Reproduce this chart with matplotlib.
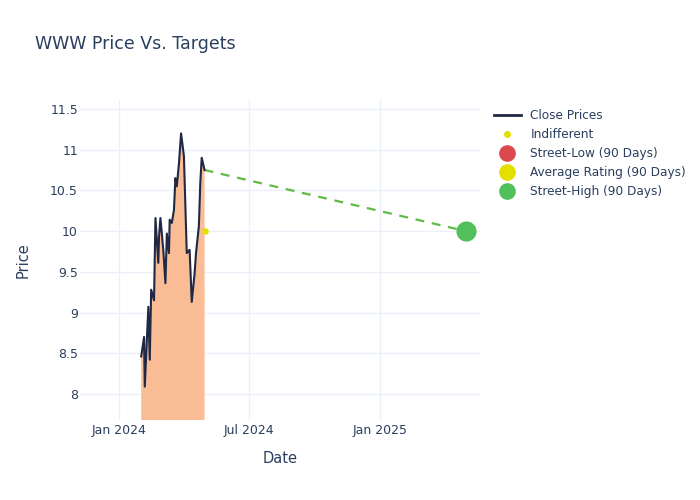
import matplotlib
matplotlib.use("Agg")
import matplotlib.pyplot as plt
import matplotlib.dates as mdates
from matplotlib.lines import Line2D
from matplotlib.ticker import FuncFormatter
import numpy as np
import pandas as pd

# close prices
dates = ["2024-02-01", "2024-02-05", "2024-02-06", "2024-02-11", "2024-02-13",
         "2024-02-15", "2024-02-19", "2024-02-21", "2024-02-25", "2024-02-26",
         "2024-02-28", "2024-03-03", "2024-03-06", "2024-03-08", "2024-03-11",
         "2024-03-12", "2024-03-15", "2024-03-18", "2024-03-20", "2024-03-22",
         "2024-03-25", "2024-03-28", "2024-04-01", "2024-04-05", "2024-04-09",
         "2024-04-12", "2024-04-16", "2024-04-18", "2024-04-22", "2024-04-24",
         "2024-04-26", "2024-04-30"]
prices = [8.46, 8.70, 8.09, 9.07, 8.42,
          9.28, 9.15, 10.16, 9.61, 9.93,
          10.16, 9.77, 9.36, 9.97, 9.73,
          10.14, 10.10, 10.26, 10.65, 10.55,
          10.83, 11.20, 10.92, 9.73, 9.77,
          9.13, 9.48, 9.73, 10.06, 10.59,
          10.90, 10.75]

indiff_date = "2024-04-30"
indiff_value = 10.0

target_date = "2025-05-02"
street_high = 10.0

title = "WWW Price Vs. Targets"
legend_labels = ["Close Prices", "Indifferent", "Street-Low (90 Days)",
                 "Average Rating (90 Days)", "Street-High (90 Days)"]

text_col = "#2a3f5f"
grid_col = "#ebf0f8"

d = pd.to_datetime(dates)
p = np.array(prices)

fig = plt.figure(figsize=(7, 5), dpi=100)
ax = fig.add_axes([0.1143, 0.16, 0.5714, 0.64])

ax.fill_between(d, p, 0, color="#f9bc95", linewidth=0, zorder=1)
ax.plot(d, p, color="#1f2845", linewidth=1.5, zorder=3)

ax.plot([d[-1], pd.to_datetime(target_date)], [p[-1], street_high],
        color="#5dbb46", linestyle=(0, (4, 3.5)), linewidth=1.6, zorder=2)
ax.scatter([pd.to_datetime(target_date)], [street_high], s=210,
           color="#52c05a", zorder=4, linewidths=0)
ax.scatter([pd.to_datetime(indiff_date)], [indiff_value], s=22,
           color="#e3e000", zorder=4, linewidths=0)

ax.set_xlim(pd.Timestamp("2023-11-07"), pd.Timestamp("2025-05-22"))
ax.set_ylim(7.68, 11.61)
ax.set_yticks(np.arange(8, 11.51, 0.5))
ax.yaxis.set_major_formatter(FuncFormatter(lambda v, _: f"{v:g}"))
ax.set_xticks(pd.to_datetime(["2024-01-01", "2024-07-01", "2025-01-01"]))
ax.xaxis.set_major_formatter(mdates.DateFormatter("%b %Y"))

ax.grid(True, color=grid_col, linewidth=1)
ax.set_axisbelow(True)
for s in ax.spines.values():
    s.set_visible(False)
ax.tick_params(length=0, colors=text_col, labelsize=9)
ax.tick_params(axis="y", pad=1.5)
ax.tick_params(axis="x", pad=3)

ax.set_xlabel("Date", color=text_col, fontsize=10.5, labelpad=10)
ax.set_ylabel("Price", color=text_col, fontsize=10.5, labelpad=14)

fig.text(0.05, 0.912, title, color=text_col, fontsize=12.5, va="center")

handles = [
    Line2D([], [], color="#1f2845", linewidth=2),
    Line2D([], [], color="#e3e000", marker="o", linestyle="", markersize=4),
    Line2D([], [], color="#d9494e", marker="o", linestyle="", markersize=11),
    Line2D([], [], color="#e3e000", marker="o", linestyle="", markersize=11),
    Line2D([], [], color="#52c05a", marker="o", linestyle="", markersize=11),
]
leg = fig.legend(handles, legend_labels, loc="upper left",
                 bbox_to_anchor=(0.699, 0.792), frameon=False, fontsize=8.7,
                 handlelength=2.2, labelspacing=0.5, borderaxespad=0)
for t in leg.get_texts():
    t.set_color(text_col)

fig.savefig("out.png", dpi=100)
